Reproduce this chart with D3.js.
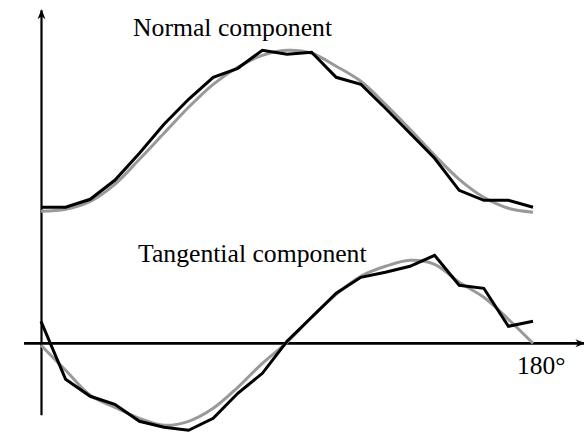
<!DOCTYPE html>
<html>
<head>
<meta charset="utf-8">
<script src="https://cdn.jsdelivr.net/npm/d3@7"></script>
<style>
html,body{margin:0;padding:0;background:#fff;}
svg{display:block;}
</style>
</head>
<body>
<svg id="chart" width="584" height="432"></svg>
<script>
// angle (degrees) of each sample
const angles = [0,9,18,27,36,45,54,63,72,81,90,99,108,117,126,135,144,153,162,171,180];
// Normal component: smooth (grey) and measured (black)
const normalSmooth = [1.32,1.34,1.42,1.59,1.84,2.10,2.36,2.59,2.76,2.88,2.93,2.90,2.77,2.62,2.39,2.14,1.88,1.64,1.46,1.35,1.31];
const normalMeasured = [1.36,1.36,1.44,1.63,1.90,2.19,2.44,2.66,2.75,2.93,2.89,2.91,2.66,2.59,2.35,2.10,1.85,1.53,1.43,1.43,1.36];
// Tangential component: smooth (grey) and measured (black)
const tangSmooth = [-0.02,-0.27,-0.52,-0.64,-0.75,-0.82,-0.78,-0.65,-0.44,-0.20,0.01,0.26,0.49,0.67,0.77,0.83,0.79,0.61,0.46,0.24,0.00];
const tangMeasured = [0.22,-0.36,-0.53,-0.61,-0.78,-0.84,-0.87,-0.75,-0.50,-0.30,0.02,0.26,0.50,0.66,0.71,0.77,0.88,0.58,0.55,0.17,0.22];
// labels
const labels = ["Normal component","Tangential component"];
const xEndLabel = "180°";

const svg = d3.select("#chart");
const x = d3.scaleLinear().domain([0,180]).range([41,533]);
const y = d3.scaleLinear().domain([-0.7,3.35]).range([413.3,8.3]);

const defs = svg.append("defs");
defs.append("marker").attr("id","arr").attr("viewBox","0 0 10 10")
  .attr("refX",9).attr("refY",5).attr("markerWidth",10).attr("markerHeight",10)
  .attr("markerUnits","userSpaceOnUse").attr("orient","auto")
  .append("path").attr("d","M0,1 L10,5 L0,9 L3,5 Z").attr("fill","#000");

// axes
svg.append("line").attr("x1",x(0)+0.5).attr("x2",x(0)+0.5)
  .attr("y1",y(-0.72)).attr("y2",y(3.33))
  .attr("stroke","#000").attr("stroke-width",2.2).attr("marker-end","url(#arr)");
svg.append("line").attr("x1",x(-6.2)).attr("x2",x(198.8))
  .attr("y1",y(0)).attr("y2",y(0))
  .attr("stroke","#000").attr("stroke-width",2.7).attr("marker-end","url(#arr)");

const smooth = d3.line().x((d,i)=>x(angles[i])).y(d=>y(d)).curve(d3.curveCatmullRom);
const jag = d3.line().x((d,i)=>x(angles[i])).y(d=>y(d));

[normalSmooth,tangSmooth].forEach(s=>{
  svg.append("path").attr("d",smooth(s)).attr("fill","none")
    .attr("stroke","#999").attr("stroke-width",3);
});
[normalMeasured,tangMeasured].forEach(s=>{
  svg.append("path").attr("d",jag(s)).attr("fill","none")
    .attr("stroke","#000").attr("stroke-width",3).attr("stroke-linejoin","miter");
});

const font = "'Liberation Serif','Times New Roman',serif";
svg.append("text").attr("x",133).attr("y",36).attr("font-family",font)
  .attr("font-size",25.7).text(labels[0]);
svg.append("text").attr("x",138).attr("y",261.7).attr("font-family",font)
  .attr("font-size",25.7).text(labels[1]);
svg.append("text").attr("x",517).attr("y",374).attr("font-family",font)
  .attr("font-size",25.5).text(xEndLabel);
</script>
</body>
</html>
